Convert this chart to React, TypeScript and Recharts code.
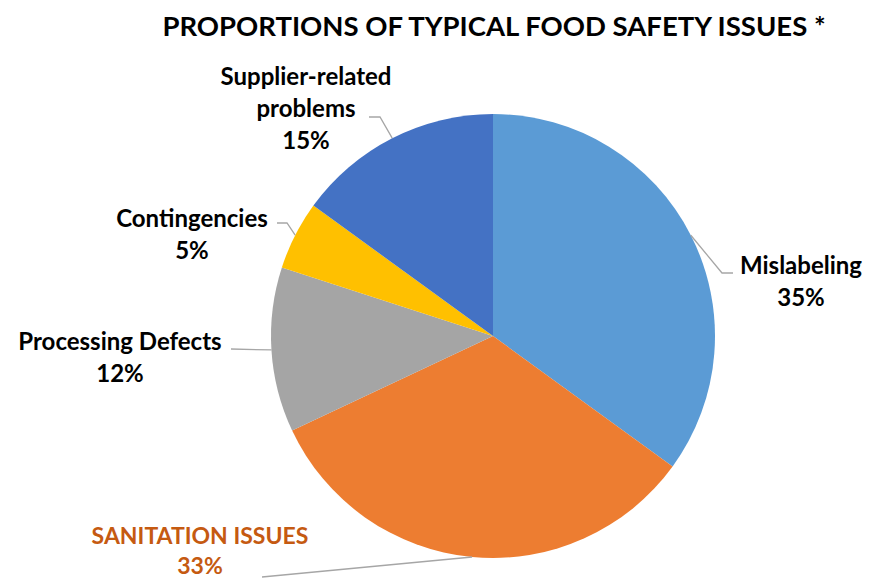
import React from 'react'
import { PieChart, Pie, Cell } from 'recharts'

const categories = ['Mislabeling', 'SANITATION ISSUES', 'Processing Defects', 'Contingencies', 'Supplier-related problems']
const shares = [35, 33, 12, 5, 15]
const colors = ['#5B9BD5', '#ED7D31', '#A5A5A5', '#FFC000', '#4472C4']

// label placement relative to the pie centre (Excel "best fit" look)
const labelLayout = [
  { lines: ['Mislabeling'], tx: 308, ty: -62, gap: 32, elbow: [[229, -63], [240, -63]], color: '#000' },
  { lines: ['SANITATION ISSUES'], tx: -293, ty: 208, gap: 30, elbow: [[-231, 241]], color: '#C55A11' },
  { lines: ['Processing Defects'], tx: -373, ty: 14, gap: 32, elbow: [[-262, 13]], color: '#000' },
  { lines: ['Contingencies'], tx: -301, ty: -109, gap: 32, elbow: [[-206, -113], [-216, -113]], color: '#000' },
  { lines: ['Supplier-related', 'problems'], tx: -187, ty: -251, gap: 32, elbow: [[-113, -219], [-124, -219]], color: '#000' },
]

const data = categories.map((name, i) => ({ name, value: shares[i] }))

const FONT = 'Lato, "Open Sans", sans-serif'

const renderLabel = (props: any) => {
  const { cx, cy, midAngle, outerRadius, index, value } = props
  const rad = (Math.PI / 180) * midAngle
  const ex = cx + outerRadius * Math.cos(rad)
  const ey = cy - outerRadius * Math.sin(rad)
  const lay = labelLayout[index]
  const pts = [[ex, ey], ...lay.elbow.map(([dx, dy]) => [cx + dx, cy + dy])]
  const lines = [...lay.lines, `${value}%`]
  return (
    <g key={`lbl-${index}`}>
      <polyline
        points={pts.map((p) => p.join(',')).join(' ')}
        fill="none"
        stroke="#A6A6A6"
        strokeWidth={1.3}
      />
      {lines.map((t, j) => (
        <text
          key={j}
          x={cx + lay.tx}
          y={cy + lay.ty + j * lay.gap}
          textAnchor="middle"
          fill={lay.color}
          fontFamily={FONT}
          fontWeight={700}
          fontSize={index === 1 ? 23 : 24}
        >
          {t}
        </text>
      ))}
    </g>
  )
}

export default function App() {
  return (
    <div style={{ position: 'absolute', left: 0, top: 0, width: 871, height: 580, background: '#fff' }}>
      <PieChart width={871} height={580} style={{ position: 'absolute', left: 0, top: 0 }}>
        <Pie
          data={data}
          dataKey="value"
          nameKey="name"
          cx={488}
          cy={331}
          outerRadius={222}
          startAngle={90}
          endAngle={-270}
          stroke="none"
          label={renderLabel}
          labelLine={false}
          isAnimationActive={false}
        >
          {data.map((d, i) => (
            <Cell key={d.name} fill={colors[i]} />
          ))}
        </Pie>
      </PieChart>
      <svg width={871} height={60} style={{ position: 'absolute', left: 0, top: 0 }}>
        <text x={494} y={36} textAnchor="middle" fontFamily={FONT} fontWeight={700} fontSize={27.5} fill="#000">
          PROPORTIONS OF TYPICAL FOOD SAFETY ISSUES *
        </text>
      </svg>
    </div>
  )
}
